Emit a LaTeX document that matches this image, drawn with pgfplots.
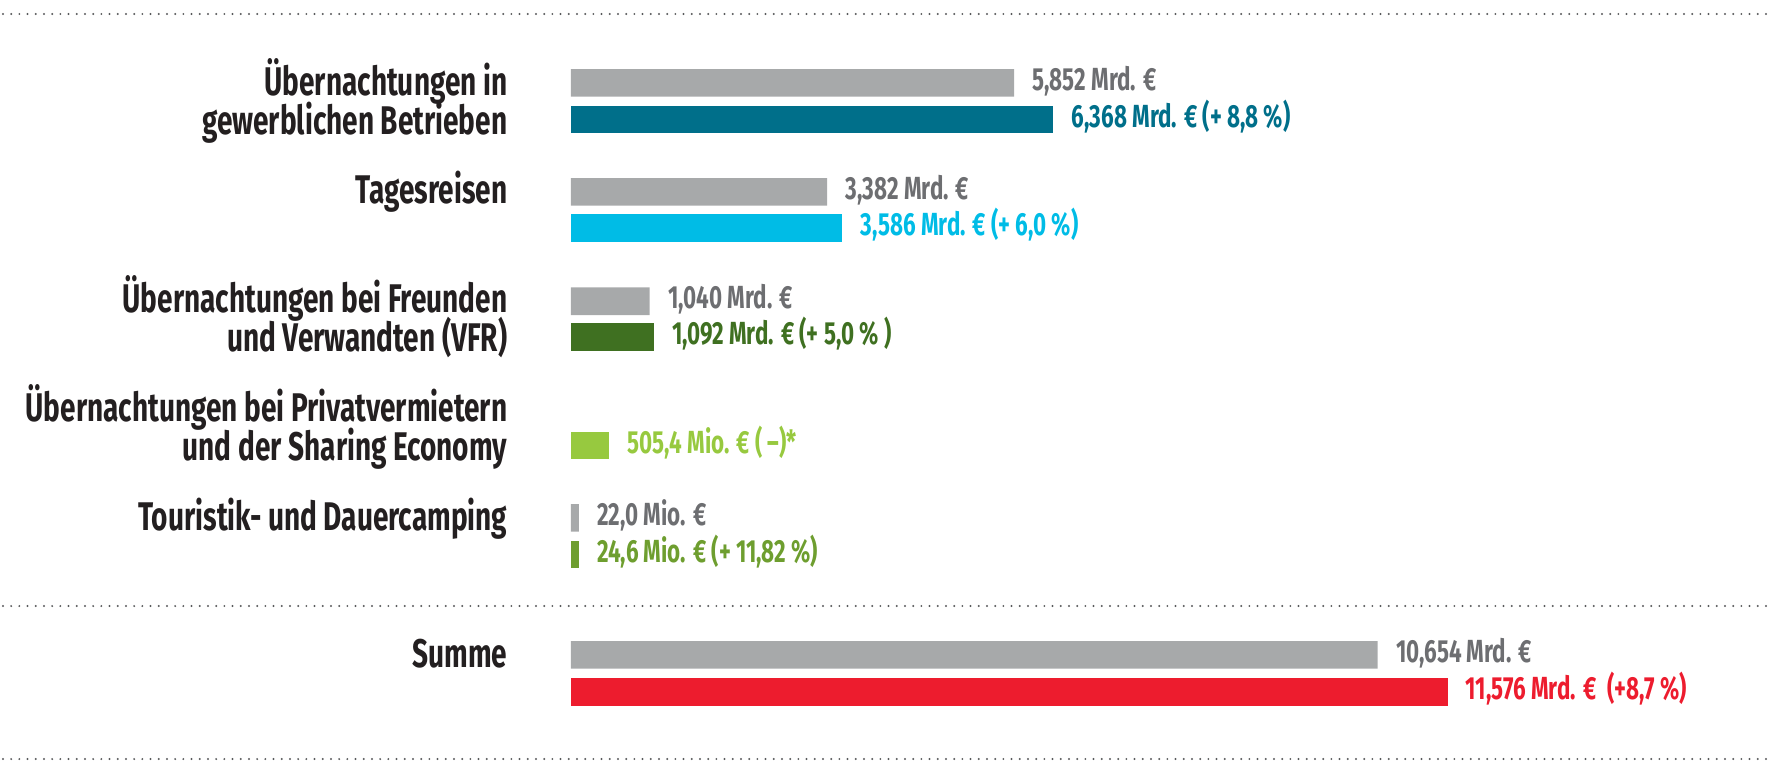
\documentclass[border=0pt]{standalone}
\usepackage{pgfplots}
\pgfplotsset{compat=1.18}
\usepackage{fontspec}
\setmainfont{Fira Sans}[FakeStretch=0.7]
\definecolor{bargray}{HTML}{A7A9AA}
\definecolor{txtgray}{HTML}{6D6E71}
\definecolor{cteal}{HTML}{006F8A}
\definecolor{ccyan}{HTML}{00BCE6}
\definecolor{cdkgreen}{HTML}{3F7021}
\definecolor{cltgreen}{HTML}{97C93F}
\definecolor{ccamp}{HTML}{6E9E2F}
\definecolor{cred}{HTML}{ED1C2E}
\definecolor{lblack}{HTML}{231F20}
\definecolor{dotgray}{HTML}{58595B}
\newcommand{\catfont}{\bfseries\fontsize{20}{23}\selectfont}
\newcommand{\valfont}{\bfseries\fontsize{16}{19}\selectfont}
\tikzset{dotsep/.style={dotgray, line width=1.1pt, dash pattern=on 0pt off 4.1pt, line cap=round}}
\begin{document}
\begin{tikzpicture}
\path[use as bounding box] (0,0) rectangle (884.5pt,-381.5pt);
\begin{axis}[
  at={(0,0)}, anchor=north west,
  width=884.5pt, height=381.5pt, scale only axis,
  xmin=-7.539, xmax=15.821, ymin=0, ymax=763, y dir=reverse,
  hide axis, clip=false,
  xbar, bar width=13.8pt, bar shift=0pt,
  nodes near coords, point meta=explicit symbolic,
  every node near coord/.append style={anchor=base west, inner sep=0pt, xshift=9pt, yshift=-3.8pt, font=\valfont},
]
\addplot[xbar, bar shift=0pt, fill=bargray, draw=none, every node near coord/.append style={text=txtgray}] coordinates {
  (5.852,82.9) [5,852 Mrd. €]
  (3.382,191.8) [3,382 Mrd. €]
  (1.040,301.2) [1,040 Mrd. €]
  (0.105,517.8) [22,0 Mio. €]
  (10.654,654.9) [10,654 Mrd. €]
};
\addplot[xbar, bar shift=0pt, fill=cteal, draw=none, every node near coord/.append style={text=cteal}] coordinates {
  (6.368,119.6) [6,368 Mrd. €\ (+\ 8,8 \%)]
};
\addplot[xbar, bar shift=0pt, fill=ccyan, draw=none, every node near coord/.append style={text=ccyan}] coordinates {
  (3.586,227.9) [3,586 Mrd. € (+\ 6,0 \%)]
};
\addplot[xbar, bar shift=0pt, fill=cdkgreen, draw=none, every node near coord/.append style={text=cdkgreen}] coordinates {
  (1.092,336.8) [1,092 Mrd. € (+\ 5,0 \%\,)]
};
\addplot[xbar, bar shift=0pt, fill=cltgreen, draw=none, every node near coord/.append style={text=cltgreen}] coordinates {
  (0.5054,445.6) [505,4 Mio. € (\,–)*]
};
\addplot[xbar, bar shift=0pt, fill=ccamp, draw=none, every node near coord/.append style={text=ccamp}] coordinates {
  (0.105,554.5) [24,6 Mio. € (+ 11,82 \%)]
};
\addplot[xbar, bar shift=0pt, fill=cred, draw=none, every node near coord/.append style={text=cred}] coordinates {
  (11.576,692.1) [11,576 Mrd. €\ \ (+8,7 \%)]
};
% dotted separators
\draw[dotsep] (axis cs:-7.50,14) -- (axis cs:15.821,14);
\draw[dotsep] (axis cs:-7.50,606) -- (axis cs:15.821,606);
\draw[dotsep] (axis cs:-7.50,759) -- (axis cs:15.821,759);
% category labels
\begin{scope}[every node/.style={anchor=base east, inner sep=0pt, text=lblack, font=\catfont}]
\node at (axis cs:-0.835,95) {Übernachtungen in};
\node at (axis cs:-0.835,134) {gewerblichen Betrieben};
\node at (axis cs:-0.835,203) {Tagesreisen};
\node at (axis cs:-0.835,312) {Übernachtungen bei Freunden};
\node at (axis cs:-0.835,351) {und Verwandten (VFR)};
\node at (axis cs:-0.835,421) {Übernachtungen bei Privatvermietern};
\node at (axis cs:-0.835,460) {und der Sharing Economy};
\node at (axis cs:-0.835,530) {Touristik- und Dauercamping};
\node at (axis cs:-0.835,667) {Summe};
\end{scope}
\end{axis}
\end{tikzpicture}
\end{document}
